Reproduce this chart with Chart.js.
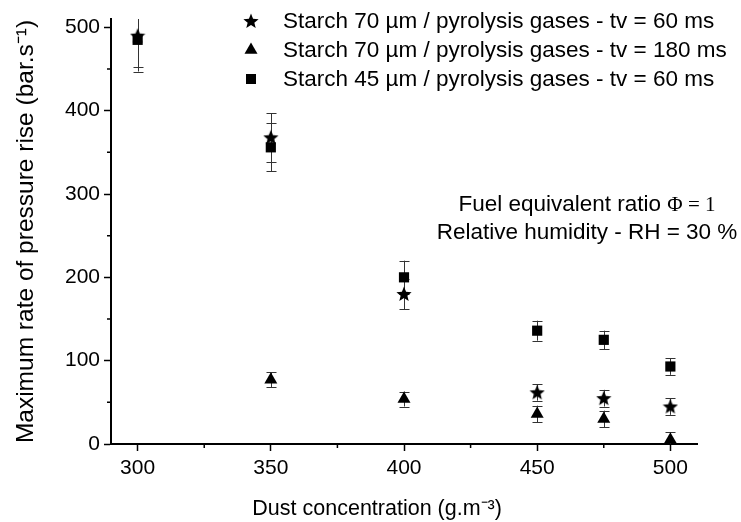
<!DOCTYPE html>
<html lang="en">
<head>
    <meta charset="UTF-8">
    <title>Maximum rate of pressure rise vs dust concentration</title>
    <style>
        body {
            margin: 0;
            background: #fff;
        }
        #wrap {
            width: 741px;
            height: 522px;
            position: relative;
        }
    </style>
    <script src="https://cdn.jsdelivr.net/npm/chart.js"></script>
</head>
<body>
    <div id="wrap"><canvas id="pressureChart"></canvas></div>

    <script>
        // values
        const concentrations = [300, 350, 400, 450, 475, 500];
        const star60Values = [490, 368, 180, 62, 55, 45];
        const star60Errors = [37, 29, 18, 10, 10, 10];
        const tri180Concentrations = [350, 400, 450, 475, 500];
        const tri180Values = [77, 54, 36, 30, 5];
        const tri180Errors = [9, 9, 10, 10, 9];
        const sq45Values = [485, 356, 200, 136, 125, 93];
        const sq45Errors = [38, 29, 20, 12, 11, 10];

        const seriesLabels = [
            "Starch 70 µm / pyrolysis gases - tv = 60 ms",
            "Starch 70 µm / pyrolysis gases - tv = 180 ms",
            "Starch 45 µm / pyrolysis gases - tv = 60 ms"
        ];
        const xTicks = [300, 350, 400, 450, 500];
        const xMinorTicks = [325, 375, 425, 475];
        const yTicks = [0, 100, 200, 300, 400, 500];
        const yMinorTicks = [50, 150, 250, 350, 450];

        const sansFont = '"Liberation Sans", Arial, sans-serif';
        const serifFont = '"Liberation Serif", "Times New Roman", serif';

        // filled five point star, the built in one is only stroked
        function makeStar(size) {
            const c = document.createElement("canvas");
            c.width = size;
            c.height = size;
            const g = c.getContext("2d");
            const cx = size / 2, cy = size / 2 + 0.6;
            const outer = size / 2, inner = outer * 0.44;
            g.beginPath();
            for (let i = 0; i < 10; i++) {
                const r = i % 2 === 0 ? outer : inner;
                const a = -Math.PI / 2 + i * Math.PI / 5;
                g.lineTo(cx + r * Math.cos(a), cy + r * Math.sin(a));
            }
            g.closePath();
            g.fillStyle = "#000";
            g.fill();
            return c;
        }
        const starImg = makeStar(16);

        function toPoints(xs, ys, errs) {
            return xs.map((x, i) => ({ x: x, y: ys[i], err: errs[i] }));
        }

        function drawMarker(ctx, style, x, y) {
            ctx.fillStyle = "#000";
            if (style === "star") {
                ctx.drawImage(starImg, x - starImg.width / 2, y - starImg.height / 2);
            } else if (style === "triangle") {
                const r = 7.5;
                ctx.beginPath();
                ctx.moveTo(x, y - r);
                ctx.lineTo(x + r * 0.866, y + r * 0.5);
                ctx.lineTo(x - r * 0.866, y + r * 0.5);
                ctx.closePath();
                ctx.fill();
            } else {
                ctx.fillRect(x - 5, y - 5, 10, 10);
            }
        }

        const errorBars = {
            id: "errorBars",
            beforeDatasetsDraw(chart) {
                const ctx = chart.ctx;
                const area = chart.chartArea;
                const yScale = chart.scales.y;
                ctx.save();
                ctx.beginPath();
                ctx.rect(area.left, area.top, area.right - area.left, area.bottom - area.top);
                ctx.clip();
                ctx.strokeStyle = "#333";
                ctx.lineWidth = 1;
                chart.data.datasets.forEach((ds, di) => {
                    const meta = chart.getDatasetMeta(di);
                    meta.data.forEach((pt, i) => {
                        const d = ds.data[i];
                        const hi = d.y + d.err, lo = d.y - d.err;
                        const yHi = yScale.getPixelForValue(hi);
                        const yLo = yScale.getPixelForValue(lo);
                        const x = Math.round(pt.x) + 0.5;
                        ctx.beginPath();
                        ctx.moveTo(x, yHi);
                        ctx.lineTo(x, yLo);
                        if (hi <= yScale.max) {
                            ctx.moveTo(x - 5, Math.round(yHi) + 0.5);
                            ctx.lineTo(x + 5, Math.round(yHi) + 0.5);
                        }
                        ctx.moveTo(x - 5, Math.round(yLo) + 0.5);
                        ctx.lineTo(x + 5, Math.round(yLo) + 0.5);
                        ctx.stroke();
                    });
                });
                ctx.restore();
            }
        };

        const extras = {
            id: "extras",
            afterDraw(chart) {
                const ctx = chart.ctx;
                const xs = chart.scales.x, ys = chart.scales.y;
                ctx.save();

                // minor ticks
                ctx.strokeStyle = "#000";
                ctx.lineWidth = 1.5;
                ctx.beginPath();
                xMinorTicks.forEach(v => {
                    const px = xs.getPixelForValue(v);
                    ctx.moveTo(px, ys.bottom);
                    ctx.lineTo(px, ys.bottom + 4);
                });
                yMinorTicks.forEach(v => {
                    const py = ys.getPixelForValue(v);
                    ctx.moveTo(xs.left, py);
                    ctx.lineTo(xs.left - 4, py);
                });
                ctx.stroke();

                // legend
                const styles = ["star", "triangle", "rect"];
                ctx.font = "22.5px " + sansFont;
                ctx.textBaseline = "middle";
                ctx.textAlign = "left";
                seriesLabels.forEach((label, i) => {
                    const y = 21 + i * 29;
                    drawMarker(ctx, styles[i], 251, y);
                    ctx.fillStyle = "#000";
                    ctx.fillText(label, 283, y + 1);
                });

                // conditions note
                const cx = 587;
                const part1 = "Fuel equivalent ratio ";
                const part2 = "Φ = 1";
                ctx.fillStyle = "#000";
                ctx.font = "22.5px " + sansFont;
                const w1 = ctx.measureText(part1).width;
                ctx.font = "21px " + serifFont;
                const w2 = ctx.measureText(part2).width;
                const x0 = cx - (w1 + w2) / 2;
                ctx.font = "22.5px " + sansFont;
                ctx.fillText(part1, x0, 205);
                ctx.font = "21px " + serifFont;
                ctx.fillText(part2, x0 + w1, 205);
                ctx.font = "22.5px " + sansFont;
                ctx.textAlign = "center";
                ctx.fillText("Relative humidity - RH = 30 %", cx, 233);

                ctx.restore();
            }
        };

        const ctx = document.getElementById("pressureChart").getContext("2d");
        const chart = new Chart(ctx, {
            type: "scatter",
            data: {
                datasets: [
                    {
                        label: seriesLabels[0],
                        data: toPoints(concentrations, star60Values, star60Errors),
                        pointStyle: starImg,
                        backgroundColor: "#000",
                        borderColor: "#000"
                    },
                    {
                        label: seriesLabels[1],
                        data: toPoints(tri180Concentrations, tri180Values, tri180Errors),
                        pointStyle: "triangle",
                        pointRadius: 7.5,
                        borderWidth: 0,
                        backgroundColor: "#000",
                        borderColor: "#000"
                    },
                    {
                        label: seriesLabels[2],
                        data: toPoints(concentrations, sq45Values, sq45Errors),
                        pointStyle: "rect",
                        pointRadius: 7.2,
                        borderWidth: 0,
                        backgroundColor: "#000",
                        borderColor: "#000"
                    }
                ]
            },
            options: {
                responsive: true,
                maintainAspectRatio: false,
                animation: false,
                layout: { padding: { top: 19, right: 44, left: 0, bottom: 0 } },
                plugins: {
                    legend: { display: false },
                    tooltip: { enabled: false }
                },
                scales: {
                    x: {
                        type: "linear",
                        min: 290,
                        max: 510,
                        afterBuildTicks: s => { s.ticks = xTicks.map(v => ({ value: v })); },
                        afterFit: s => { s.height = 78; },
                        border: { color: "#000", width: 2 },
                        grid: {
                            drawOnChartArea: false,
                            drawTicks: true,
                            tickLength: 7,
                            tickColor: "#000",
                            tickWidth: 1.5
                        },
                        ticks: {
                            color: "#000",
                            font: { family: sansFont, size: 21 },
                            padding: 5,
                            maxRotation: 0
                        },
                        title: {
                            display: true,
                            // trailing spaces pull the centred title left as in the figure
                            text: "Dust concentration (g.m⁻³)\u2003\u2003\u2002",
                            color: "#000",
                            font: { family: sansFont, size: 21.5 },
                            padding: { top: 0, bottom: 0 }
                        }
                    },
                    y: {
                        type: "linear",
                        min: 0,
                        max: 510,
                        afterBuildTicks: s => { s.ticks = yTicks.map(v => ({ value: v })); },
                        afterFit: s => { s.width = 111; },
                        border: { color: "#000", width: 2 },
                        grid: {
                            drawOnChartArea: false,
                            drawTicks: true,
                            tickLength: 7,
                            tickColor: "#000",
                            tickWidth: 1.5
                        },
                        ticks: {
                            color: "#000",
                            font: { family: sansFont, size: 21 },
                            padding: 4
                        },
                        title: {
                            display: true,
                            text: "Maximum rate of pressure rise (bar.s⁻¹)",
                            color: "#000",
                            font: { family: sansFont, size: 24.5 },
                            padding: { top: 12, bottom: 0 }
                        }
                    }
                }
            },
            plugins: [errorBars, extras]
        });
    </script>
</body>
</html>
